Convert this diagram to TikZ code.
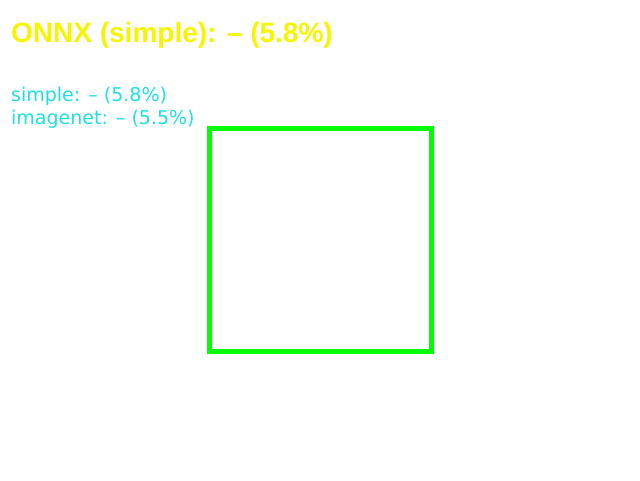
\documentclass[tikz,border=0pt]{standalone}
\usepackage{fontspec}
\setmainfont{Liberation Sans}
\newfontfamily\labelfont{DejaVu Sans}
\definecolor{titleyellow}{RGB}{245,245,0}
\definecolor{labelcyan}{RGB}{30,225,225}
\definecolor{boxgreen}{RGB}{0,255,0}
\begin{document}
\begin{tikzpicture}[
    x=1pt, y=-1pt,
    title/.style={anchor=base west, inner sep=0pt, text=titleyellow, font=\fontsize{28}{30}\selectfont\bfseries},
    label/.style={anchor=base west, inner sep=0pt, text=labelcyan, font=\labelfont\fontsize{19}{21}\selectfont},
    frame/.style={draw=boxgreen, line width=4.5pt}
]
    \useasboundingbox[fill=white] (0,0) rectangle (640,480);

    % Headline
    \node[title] (head) at (11,42) {ONNX (simple): – (5.8\%)};

    % Per-model scores
    \node[label] (simple) at (11,101) {simple: – (5.8\%)};
    \node[label] (imagenet) at (11,124) {imagenet: – (5.5\%)};

    % Detection box
    \node[frame, minimum width=222pt, minimum height=223pt, inner sep=0pt] (box) at (320.5,240) {};
\end{tikzpicture}
\end{document}
